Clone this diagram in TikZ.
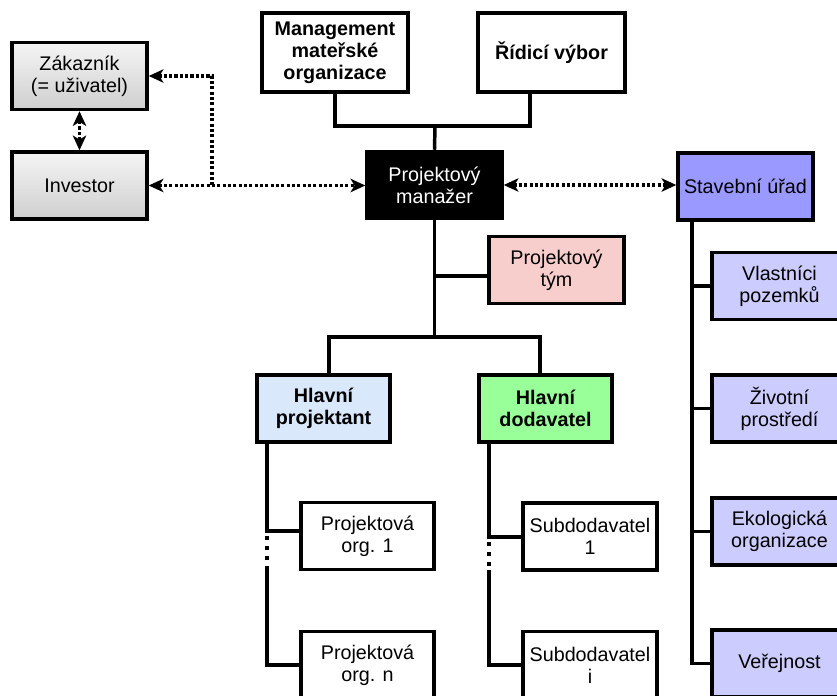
\documentclass[tikz,border=0pt]{standalone}
\usepackage{fontspec}
\setmainfont{Liberation Sans}
\usetikzlibrary{arrows.meta}
\definecolor{tymfill}{HTML}{F8CECC}
\definecolor{hpfill}{HTML}{DAE8FC}
\definecolor{hdfill}{HTML}{99FF99}
\definecolor{stavfill}{HTML}{9999FF}
\definecolor{subfill}{HTML}{CCCCFF}
\begin{document}
\begin{tikzpicture}[x=0.75pt,y=-0.75pt,
  box/.style={draw=black, line width=2.6pt, rectangle, align=center, inner sep=0pt,
    minimum width=101.25pt, minimum height=50.25pt,
    font=\fontsize{14.8}{16.5}\selectfont},
  bbox/.style={box, font=\fontsize{14.8}{16.5}\selectfont\bfseries},
  graybox/.style={box, top color=gray!8, bottom color=gray!38},
  conn/.style={line width=2.6pt},
  dotc/.style={line width=2.8pt, dash pattern=on 2.4pt off 1.6pt},
  dotv/.style={line width=2.8pt, dash pattern=on 3pt off 4.5pt},
  tipA/.style={-{Stealth[length=11pt,width=10pt,inset=3pt]}},
  tipB/.style={{Stealth[length=11pt,width=10pt,inset=3pt]}-{Stealth[length=11pt,width=10pt,inset=3pt]}}
]
\useasboundingbox (0,0) rectangle (837,695);
\clip (0,0) rectangle (837,695);
\fill[white] (0,0) rectangle (837,695);

% nodes
\node[graybox] (zak) at (79.5,76) {Zákazník\\(= uživatel)};
\node[graybox] (inv) at (79.5,185.5) {Investor};
\node[bbox, minimum width=109.5pt, minimum height=59.25pt] (mgmt) at (335,52.5) {Management\\mateřské\\organizace};
\node[bbox, minimum width=110.25pt, minimum height=59.25pt] (rid) at (551.5,52.5) {Řídicí výbor};
\node[box, fill=black, text=white] (pm) at (434.5,185) {Projektový\\manažer};
\node[box, fill=stavfill] (stav) at (745.5,186.5) {Stavební úřad};
\node[box, fill=tymfill] (tym) at (556.5,270) {Projektový\\tým};
\node[bbox, fill=hpfill, minimum width=99.75pt] (hp) at (323.5,408.5) {Hlavní\\projektant};
\node[bbox, fill=hdfill, minimum width=99.75pt] (hd) at (545.5,408.5) {Hlavní\\dodavatel};
\node[box, minimum width=99.75pt] (po1) at (367.5,536) {Projektová\\org. 1};
\node[box, minimum width=99.75pt] (pon) at (367.5,665) {Projektová\\org. n};
\node[box, minimum width=100.5pt] (sd1) at (590,536.5) {Subdodavatel\\1};
\node[box, minimum width=100.5pt] (sdi) at (590,665) {Subdodavatel\\i};
\node[box, fill=subfill] (vl) at (779.5,286) {Vlastníci\\pozemků};
\node[box, fill=subfill] (ziv) at (779.5,408.5) {Životní\\prostředí};
\node[box, fill=subfill] (eko) at (779.5,531.5) {Ekologická\\organizace};
\node[box, fill=subfill] (ver) at (779.5,663.5) {Veřejnost};

% top connectors
\coordinate (topj) at (435,126);
\draw[conn] (mgmt.south) |- (topj) -| ([xshift=-16.1pt]rid.south);
\draw[conn] (topj) -- (pm.north);

% PM down
\coordinate (midj) at (434.5,337);
\draw[conn] (pm.south) -- (midj);
\draw[conn] (pm.south |- tym.west) ++(0,6) -- ([yshift=-4.5pt]tym.west);
\draw[conn] ([xshift=4.1pt]hp.north) |- (midj) -| ([xshift=-4.1pt]hd.north);

% projektant branch
\coordinate (L1) at (267,531);
\coordinate (L2) at (267,567);
\draw[conn] (hp.south -| L1) -- (L1) -- (L1 -| po1.west);
\draw[dotv] (L1) ++(0,5) -- (L2);
\draw[conn] (L2) |- (pon.west);

% dodavatel branch
\coordinate (R1) at (489,537);
\coordinate (R2) at (489,570);
\draw[conn] (hd.south -| R1) -- (R1) -- (R1 -| sd1.west);
\draw[dotv] (R1) ++(0,5) -- (R2);
\draw[conn] (R2) |- (sdi.west);

% stavebni branch
\coordinate (S) at (692,220);
\draw[conn] (stav.south -| S) |- (ver.west);
\draw[conn] (S |- vl.west) -- (vl.west);
\draw[conn] (S |- ziv.west) -- (ziv.west);
\draw[conn] (S |- eko.west) -- (eko.west);

% dotted arrows
\coordinate (bj) at (212,185.5);
\draw[dotc, tipB] (inv.east) -- (pm.west |- inv.east);
\draw[dotc, tipA] (bj) |- (zak.east);
\draw[dotc, tipB] (pm.east) -- (stav.west |- pm.east);
\draw[dotc, tipB] (zak.south) -- (inv.north);
\end{tikzpicture}
\end{document}
